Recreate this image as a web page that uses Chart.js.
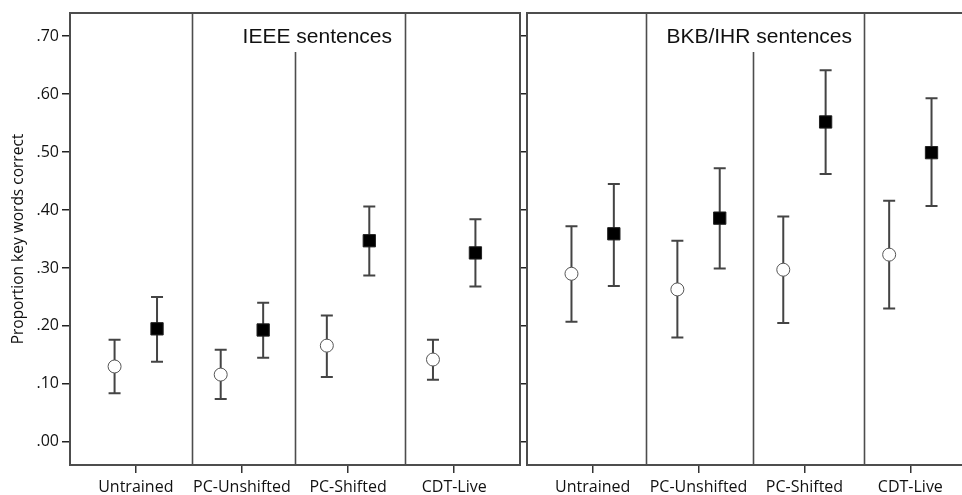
<!DOCTYPE html>
<html>
<head>
<meta charset="utf-8">
<script src="https://cdn.jsdelivr.net/npm/chart.js@4.4.0/dist/chart.umd.min.js"></script>
<style>
  body { margin: 0; background: #fff; overflow: hidden; width: 962px; height: 495px; position: relative; }
  .panel { position: absolute; top: 0; height: 495px; }
</style>
</head>
<body>
<div class="panel" style="left:0;width:522px"><canvas id="ieeeChart"></canvas></div>
<div class="panel" style="left:520px;width:460px"><canvas id="bkbChart"></canvas></div>
<script>
// categories and tick values
const categories = ['Untrained', 'PC-Unshifted', 'PC-Shifted', 'CDT-Live'];
const yTicks = [0, 0.1, 0.2, 0.3, 0.4, 0.5, 0.6, 0.7];

// IEEE sentences: open circles
const ieeeOpen = [0.130, 0.116, 0.166, 0.142];
const ieeeOpenLo = [0.084, 0.074, 0.112, 0.107];
const ieeeOpenHi = [0.176, 0.159, 0.218, 0.176];
// IEEE sentences: filled squares
const ieeeFilled = [0.195, 0.193, 0.347, 0.326];
const ieeeFilledLo = [0.138, 0.145, 0.287, 0.268];
const ieeeFilledHi = [0.250, 0.240, 0.406, 0.384];

// BKB/IHR sentences: open circles
const bkbOpen = [0.290, 0.263, 0.297, 0.323];
const bkbOpenLo = [0.207, 0.180, 0.205, 0.230];
const bkbOpenHi = [0.372, 0.347, 0.389, 0.416];
// BKB/IHR sentences: filled squares
const bkbFilled = [0.359, 0.386, 0.552, 0.499];
const bkbFilledLo = [0.269, 0.299, 0.462, 0.407];
const bkbFilledHi = [0.445, 0.472, 0.641, 0.593];

// vertical separators between conditions (the middle one starts under the title)
const ieeeDividers = [0.53, 1.5, 2.54];
const bkbDividers = [0.5, 1.51, 2.56];

const FONT = "'Open Sans', sans-serif";
const AXIS = '#4d4d4d';

function points(vals, shift) {
  return vals.map((v, i) => ({ x: i + shift, y: v }));
}

function makeDatasets(open, openLo, openHi, filled, filledLo, filledHi) {
  return [
    {
      label: 'open',
      data: points(open, -0.2),
      lo: openLo, hi: openHi,
      pointStyle: 'circle',
      pointRadius: 6.5,
      pointBackgroundColor: '#fff',
      pointBorderColor: '#555',
      pointBorderWidth: 1,
    },
    {
      label: 'filled',
      data: points(filled, 0.2),
      lo: filledLo, hi: filledHi,
      pointStyle: 'rect',
      pointRadius: 8.7,
      pointBackgroundColor: '#000',
      pointBorderColor: '#222',
      pointBorderWidth: 1,
    }
  ];
}

// error bars, frame, dividers and panel title
const panelPlugin = {
  id: 'panel',
  beforeDatasetsDraw(chart) {
    const { ctx, chartArea: a, scales: { x, y } } = chart;
    const cfg = chart.options.plugins.panel;
    ctx.save();
    ctx.strokeStyle = AXIS;
    ctx.lineWidth = 1.6;
    cfg.dividers.forEach((d, i) => {
      const px = Math.round(x.getPixelForValue(d)) + 0.5;
      ctx.beginPath();
      ctx.moveTo(px, i === 1 ? 52 : a.top);
      ctx.lineTo(px, a.bottom);
      ctx.stroke();
    });
    ctx.lineWidth = 2;
    ctx.strokeRect(a.left, a.top, a.right - a.left, a.bottom - a.top);

    ctx.fillStyle = '#111';
    ctx.font = "21px 'Liberation Sans', Arial, sans-serif";
    ctx.textAlign = 'right';
    ctx.textBaseline = 'middle';
    ctx.fillText(cfg.title, a.left + cfg.titleRight, 37);

    ctx.strokeStyle = '#444';
    ctx.lineWidth = 2;
    chart.data.datasets.forEach(ds => {
      ds.data.forEach((p, i) => {
        const px = x.getPixelForValue(p.x);
        const yl = y.getPixelForValue(ds.lo[i]);
        const yh = y.getPixelForValue(ds.hi[i]);
        ctx.beginPath();
        ctx.moveTo(px, yl); ctx.lineTo(px, yh);
        ctx.moveTo(px - 6, yl); ctx.lineTo(px + 6, yl);
        ctx.moveTo(px - 6, yh); ctx.lineTo(px + 6, yh);
        ctx.stroke();
      });
    });
    ctx.restore();
  }
};

function makeChart(id, datasets, opts) {
  return new Chart(document.getElementById(id).getContext('2d'), {
    type: 'scatter',
    data: { datasets },
    plugins: [panelPlugin],
    options: {
      responsive: true,
      maintainAspectRatio: false,
      animation: false,
      layout: { autoPadding: false, padding: { top: 13, right: opts.padRight, left: 0, bottom: 0 } },
      plugins: {
        legend: { display: false },
        tooltip: { enabled: false },
        panel: { dividers: opts.dividers, title: opts.title, titleRight: opts.titleRight }
      },
      scales: {
        x: {
          type: 'linear',
          min: -0.62,
          max: 3.62,
          afterBuildTicks: s => { s.ticks = categories.map((c, i) => ({ value: i })); },
          afterFit: s => { s.height = 30; s.paddingLeft = 0; s.paddingRight = 0; },
          ticks: {
            callback: v => categories[v],
            font: { family: FONT, size: 16 },
            color: '#111',
            padding: 5,
            maxRotation: 0,
            autoSkip: false
          },
          grid: { drawOnChartArea: false, tickLength: 8, color: '#333', lineWidth: 1.5 },
          border: { color: AXIS, width: 2 }
        },
        y: {
          min: -0.04,
          max: 0.74,
          afterBuildTicks: s => { s.ticks = yTicks.map(v => ({ value: v })); },
          afterFit: s => { s.width = opts.yWidth; s.paddingTop = 0; s.paddingBottom = 0; },
          ticks: {
            display: opts.yLabels,
            callback: v => v.toFixed(2).replace(/^0/, ''),
            font: { family: FONT, size: 16 },
            color: '#111',
            padding: 3
          },
          title: {
            display: opts.yLabels,
            text: 'Proportion key words correct',
            font: { family: FONT, size: 15.5 },
            color: '#111',
            padding: { top: 9, bottom: 0 }
          },
          grid: { drawOnChartArea: false, tickLength: opts.yLabels ? 8 : 6, color: '#222', lineWidth: 1.5 },
          border: { color: AXIS, width: 2 }
        }
      }
    }
  });
}

const ieeeChart = makeChart('ieeeChart',
  makeDatasets(ieeeOpen, ieeeOpenLo, ieeeOpenHi, ieeeFilled, ieeeFilledLo, ieeeFilledHi),
  { dividers: ieeeDividers, title: 'IEEE sentences', titleRight: 322, padRight: 2, yWidth: 70, yLabels: true });

const bkbChart = makeChart('bkbChart',
  makeDatasets(bkbOpen, bkbOpenLo, bkbOpenHi, bkbFilled, bkbFilledLo, bkbFilledHi),
  { dividers: bkbDividers, title: 'BKB/IHR sentences', titleRight: 325, padRight: 4, yWidth: 7, yLabels: false });
</script>
</body>
</html>
